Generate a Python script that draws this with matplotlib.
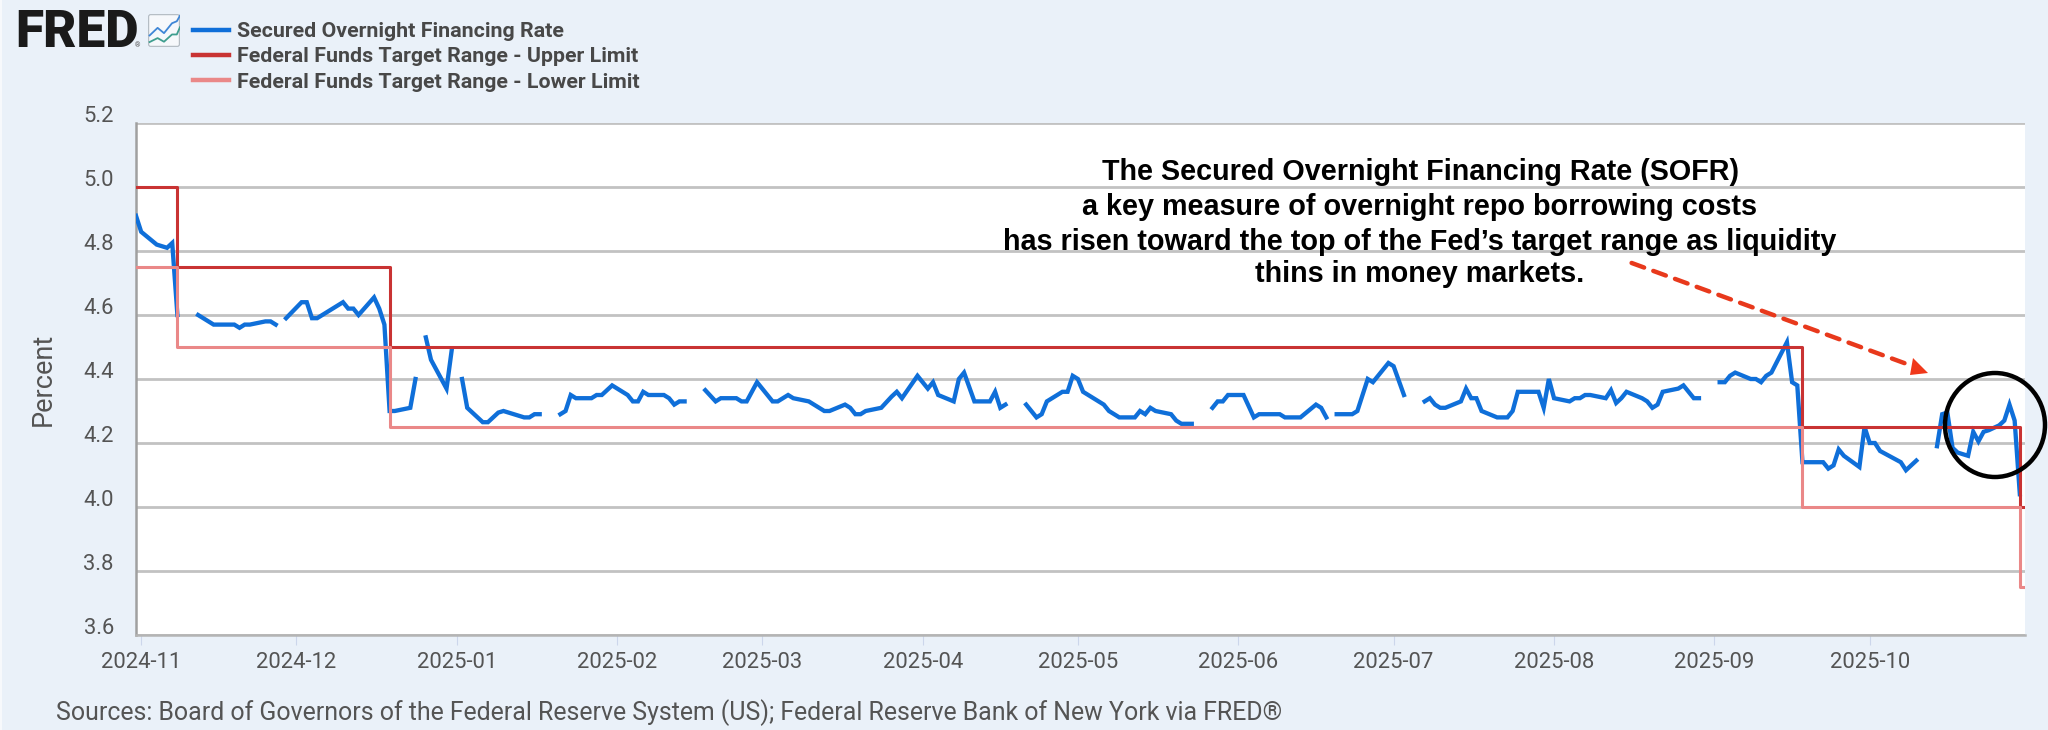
import numpy as np
import matplotlib
matplotlib.use("Agg")
import matplotlib.pyplot as plt
import matplotlib.dates as mdates
import matplotlib.transforms as mtransforms
from matplotlib.patches import Ellipse, FancyArrowPatch, FancyBboxPatch, Polygon, Rectangle

W, H = 2048, 730
nan = np.nan

# SOFR, nan marks the market holidays where the line breaks
sofr_dates = [
    "2024-10-31", "2024-11-01", "2024-11-04", "2024-11-05", "2024-11-06", "2024-11-07", "2024-11-08", "2024-11-11",
    "2024-11-12", "2024-11-15", "2024-11-19", "2024-11-20", "2024-11-21", "2024-11-22", "2024-11-25", "2024-11-26", "2024-11-27", "2024-11-28",
    "2024-11-29", "2024-12-02", "2024-12-03", "2024-12-04", "2024-12-05", "2024-12-10", "2024-12-11", "2024-12-12", "2024-12-13", "2024-12-16",
    "2024-12-17", "2024-12-18", "2024-12-19", "2024-12-20", "2024-12-23", "2024-12-24", "2024-12-25",
    "2024-12-26", "2024-12-27", "2024-12-30", "2024-12-31", "2025-01-01",
    "2025-01-02", "2025-01-03", "2025-01-06", "2025-01-07", "2025-01-09", "2025-01-10", "2025-01-12", "2025-01-14", "2025-01-15", "2025-01-16", "2025-01-17", "2025-01-20",
    "2025-01-21", "2025-01-22", "2025-01-23", "2025-01-24", "2025-01-27", "2025-01-28", "2025-01-29", "2025-01-31", "2025-02-03", "2025-02-04",
    "2025-02-05", "2025-02-06", "2025-02-07", "2025-02-10", "2025-02-11", "2025-02-12", "2025-02-13", "2025-02-14", "2025-02-17",
    "2025-02-18", "2025-02-20", "2025-02-21", "2025-02-24", "2025-02-25", "2025-02-26", "2025-02-28", "2025-03-03", "2025-03-04", "2025-03-06",
    "2025-03-07", "2025-03-10", "2025-03-13", "2025-03-14", "2025-03-17", "2025-03-18", "2025-03-19", "2025-03-20", "2025-03-21", "2025-03-24",
    "2025-03-26", "2025-03-27", "2025-03-28", "2025-03-31", "2025-04-02", "2025-04-03", "2025-04-04", "2025-04-07", "2025-04-08", "2025-04-09",
    "2025-04-11", "2025-04-14", "2025-04-15", "2025-04-16", "2025-04-17", "2025-04-18",
    "2025-04-21", "2025-04-23", "2025-04-24", "2025-04-25", "2025-04-28", "2025-04-29", "2025-04-30", "2025-05-01", "2025-05-02", "2025-05-06",
    "2025-05-07", "2025-05-09", "2025-05-12", "2025-05-13", "2025-05-14", "2025-05-15", "2025-05-16", "2025-05-19", "2025-05-20", "2025-05-21", "2025-05-23", "2025-05-26",
    "2025-05-27", "2025-05-28", "2025-05-29", "2025-05-30", "2025-06-02", "2025-06-04", "2025-06-05", "2025-06-09", "2025-06-10", "2025-06-13",
    "2025-06-16", "2025-06-17", "2025-06-18", "2025-06-19",
    "2025-06-20", "2025-06-23", "2025-06-24", "2025-06-25", "2025-06-26", "2025-06-27", "2025-06-30", "2025-07-01", "2025-07-03", "2025-07-04",
    "2025-07-07", "2025-07-08", "2025-07-09", "2025-07-10", "2025-07-11", "2025-07-14", "2025-07-15", "2025-07-16", "2025-07-17", "2025-07-18",
    "2025-07-21", "2025-07-23", "2025-07-24", "2025-07-25", "2025-07-29", "2025-07-30", "2025-07-31", "2025-08-01", "2025-08-04", "2025-08-05",
    "2025-08-06", "2025-08-07", "2025-08-08", "2025-08-11", "2025-08-12", "2025-08-13", "2025-08-14", "2025-08-15", "2025-08-18", "2025-08-19",
    "2025-08-20", "2025-08-21", "2025-08-22", "2025-08-25", "2025-08-26", "2025-08-28", "2025-08-29", "2025-09-01",
    "2025-09-02", "2025-09-03", "2025-09-04", "2025-09-05", "2025-09-08", "2025-09-09", "2025-09-10", "2025-09-11", "2025-09-12", "2025-09-15",
    "2025-09-16", "2025-09-17", "2025-09-18", "2025-09-22", "2025-09-23", "2025-09-24", "2025-09-25", "2025-09-26", "2025-09-29", "2025-09-30",
    "2025-10-01", "2025-10-02", "2025-10-03", "2025-10-07", "2025-10-08", "2025-10-09", "2025-10-10", "2025-10-13",
    "2025-10-14", "2025-10-15", "2025-10-16", "2025-10-17", "2025-10-18", "2025-10-20", "2025-10-21", "2025-10-22", "2025-10-23", "2025-10-24",
    "2025-10-26", "2025-10-27", "2025-10-28", "2025-10-29", "2025-10-30",
]
sofr_values = [
    4.91, 4.86, 4.82, 4.815, 4.81, 4.825, 4.60, nan,
    4.60, 4.57, 4.57, 4.56, 4.57, 4.57, 4.58, 4.58, 4.57, nan,
    4.59, 4.64, 4.64, 4.59, 4.59, 4.64, 4.62, 4.62, 4.60, 4.655,
    4.62, 4.57, 4.30, 4.30, 4.31, 4.40, nan,
    4.53, 4.46, 4.37, 4.49, nan,
    4.40, 4.31, 4.265, 4.265, 4.295, 4.30, 4.29, 4.28, 4.28, 4.29, 4.29, nan,
    4.29, 4.30, 4.35, 4.34, 4.34, 4.35, 4.35, 4.38, 4.35, 4.33,
    4.33, 4.36, 4.35, 4.35, 4.34, 4.32, 4.33, 4.33, nan,
    4.365, 4.33, 4.34, 4.34, 4.33, 4.33, 4.39, 4.33, 4.33, 4.35,
    4.34, 4.33, 4.30, 4.30, 4.32, 4.31, 4.29, 4.29, 4.30, 4.31,
    4.345, 4.36, 4.34, 4.41, 4.37, 4.39, 4.35, 4.33, 4.40, 4.42,
    4.33, 4.33, 4.36, 4.31, 4.32, nan,
    4.32, 4.28, 4.29, 4.33, 4.36, 4.36, 4.41, 4.40, 4.36, 4.32,
    4.30, 4.28, 4.28, 4.30, 4.29, 4.31, 4.30, 4.29, 4.27, 4.26, 4.26, nan,
    4.31, 4.33, 4.33, 4.35, 4.35, 4.28, 4.29, 4.29, 4.28, 4.28,
    4.32, 4.31, 4.28, nan,
    4.29, 4.29, 4.30, 4.35, 4.40, 4.39, 4.45, 4.44, 4.35, nan,
    4.33, 4.34, 4.32, 4.31, 4.31, 4.33, 4.37, 4.34, 4.34, 4.30,
    4.28, 4.28, 4.30, 4.36, 4.36, 4.31, 4.40, 4.34, 4.33, 4.34,
    4.34, 4.35, 4.35, 4.34, 4.365, 4.325, 4.34, 4.36, 4.34, 4.33,
    4.31, 4.32, 4.36, 4.37, 4.38, 4.34, 4.34, nan,
    4.39, 4.39, 4.41, 4.42, 4.40, 4.40, 4.39, 4.41, 4.42, 4.515,
    4.39, 4.38, 4.14, 4.14, 4.12, 4.13, 4.18, 4.16, 4.125, 4.25,
    4.20, 4.20, 4.175, 4.14, 4.115, 4.13, 4.145, nan,
    4.19, 4.29, 4.295, 4.185, 4.17, 4.16, 4.235, 4.205, 4.235, 4.24,
    4.255, 4.27, 4.32, 4.27, 4.04,
]

# target range changes, each value holds until the next date
range_dates = ["2024-10-31", "2024-11-08", "2024-12-19", "2025-09-18", "2025-10-30", "2025-10-31"]
upper_limit = [5.00, 4.75, 4.50, 4.25, 4.00, 4.00]
lower_limit = [4.75, 4.50, 4.25, 4.00, 3.75, 3.75]

y_ticks = [3.6, 3.8, 4.0, 4.2, 4.4, 4.6, 4.8, 5.0, 5.2]

note_lines = [
    "The Secured Overnight Financing Rate (SOFR)",
    "a key measure of overnight repo borrowing costs",
    "has risen toward the top of the Fed\u2019s target range as liquidity",
    "thins in money markets.",
]
source_text = "Sources: Board of Governors of the Federal Reserve System (US); Federal Reserve Bank of New York via FRED\u00ae"

# little chart in the logo box
icon_x = [5, 30, 50, 75, 90, 100]
icon_blue = [35, 58, 42, 72, 78, 95]
icon_green = [15, 27, 16, 38, 38, 60]

BG = "#eaf1f9"
TEXT = "#545454"
plt.rcParams["font.family"] = ["Roboto", "DejaVu Sans"]


def fx(px):
    return px / W


def fy(py):
    return 1 - py / H


fig = plt.figure(figsize=(W / 100, H / 100), dpi=100, facecolor=BG)
ax = fig.add_axes([fx(136), fy(635), fx(2025 - 136), (635 - 123) / H])

sofr_x = mdates.date2num(np.array(sofr_dates, dtype="datetime64[D]"))
range_x = mdates.date2num(np.array(range_dates, dtype="datetime64[D]"))

ln1, = ax.plot(sofr_x, sofr_values, color="#0f6fd9", lw=3.1, zorder=3, solid_joinstyle="miter",
               label="Secured Overnight Financing Rate")
ln2, = ax.step(range_x, upper_limit, where="post", color="#c93333", lw=2.2, zorder=4,
               label="Federal Funds Target Range - Upper Limit")
ln3, = ax.step(range_x, lower_limit, where="post", color="#ea8888", lw=2.2, zorder=5,
               label="Federal Funds Target Range - Lower Limit")

ax.set_xlim(mdates.date2num(np.datetime64("2024-10-31")), mdates.date2num(np.datetime64("2025-10-31")))
ax.set_ylim(3.6, 5.2)
ax.set_yticks(y_ticks)
ax.yaxis.set_major_formatter(matplotlib.ticker.FormatStrFormatter("%.1f"))
ax.xaxis.set_major_locator(mdates.MonthLocator())
ax.xaxis.set_major_formatter(mdates.DateFormatter("%Y-%m"))
ax.grid(axis="y", color="#c2c2c2", lw=2, zorder=1)
ax.set_axisbelow(True)
ax.tick_params(axis="x", length=7, width=0.8, color="#ccd6eb", labelsize=15.8, labelcolor=TEXT, pad=5)
ax.tick_params(axis="y", length=0, labelsize=15.8, labelcolor=TEXT, pad=16)
# y labels sit a bit above their grid lines in the original
up = mtransforms.ScaledTranslation(0, 9 / 100, fig.dpi_scale_trans)
for lab in ax.get_yticklabels():
    lab.set_transform(lab.get_transform() + up)
for side in ["top", "right"]:
    ax.spines[side].set_visible(False)
ax.spines["left"].set_color("#a0a0a0")
ax.spines["left"].set_linewidth(1.8)
ax.spines["bottom"].set_color("#b4b4b4")
ax.spines["bottom"].set_linewidth(1.8)
ax.set_ylabel("Percent", fontsize=19.5, color=TEXT)
ax.yaxis.set_label_coords((57 - 136) / (2025 - 136), 0.5)

fig.legend(handles=[ln1, ln2, ln3], loc="upper left", bbox_to_anchor=(fx(193), fy(22)), frameon=False,
           labelspacing=0.3, handlelength=1.7, handletextpad=0.38, borderpad=0, borderaxespad=0,
           labelcolor="#484848", prop={"size": 15.4, "weight": "bold"})
for h in fig.legends[0].get_lines():
    h.set_linewidth(3.2)

for line, py in zip(note_lines, [172, 207, 242, 274]):
    fig.text(fx(1420), fy(py), line, ha="center", va="center", fontsize=20.7, fontweight="bold",
             family="Liberation Sans", color="black", zorder=10)

fig.text(fx(56), fy(713), source_text, ha="left", va="center", fontsize=17.9, color=TEXT)

# dashed call-out arrow and ring round the last weeks
fig.add_artist(FancyArrowPatch((fx(1629), fy(262)), (fx(1915), fy(367)), transform=fig.transFigure, arrowstyle="-",
                               color="#e8391c", lw=3.2, linestyle=(0, (3, 2.2)), zorder=11))
fig.add_artist(Polygon([(fx(1928), fy(373)), (fx(1913), fy(358)), (fx(1910), fy(375))], closed=True,
                       transform=fig.transFigure, facecolor="#f0381a", edgecolor="none", zorder=11))
fig.add_artist(Ellipse((fx(1995), fy(425)), 100 / W, 104 / H, transform=fig.transFigure, fill=False,
                       edgecolor="black", lw=3.2, zorder=12))

# FRED logo
fig.text(fx(15), fy(33), "FRED", ha="left", va="center", fontsize=37, fontweight="black", family="Roboto",
         color="#1a1a1a")
fig.text(fx(135), fy(46), "\u00ae", ha="left", va="center", fontsize=5, color="#555555")
icon = fig.add_axes([fx(148), fy(47), fx(32), 33 / H])
icon.set_xlim(0, 100)
icon.set_ylim(0, 100)
icon.axis("off")
icon.add_patch(FancyBboxPatch((2, 2), 96, 96, boxstyle="round,pad=0,rounding_size=6", facecolor="#f6f8fb",
                              edgecolor="#b0b8c0", lw=0.8))
icon.plot(icon_x, icon_blue, color="#3f86d6", lw=1.3)
icon.plot(icon_x, icon_green, color="#3f9e8f", lw=1.3)

# thin pale strip down the left edge
fig.add_artist(Rectangle((0, 0), 2 / W, 1, transform=fig.transFigure, facecolor="#f7f9fc", edgecolor="none"))

fig.savefig("out.png", dpi=100, facecolor=BG)
